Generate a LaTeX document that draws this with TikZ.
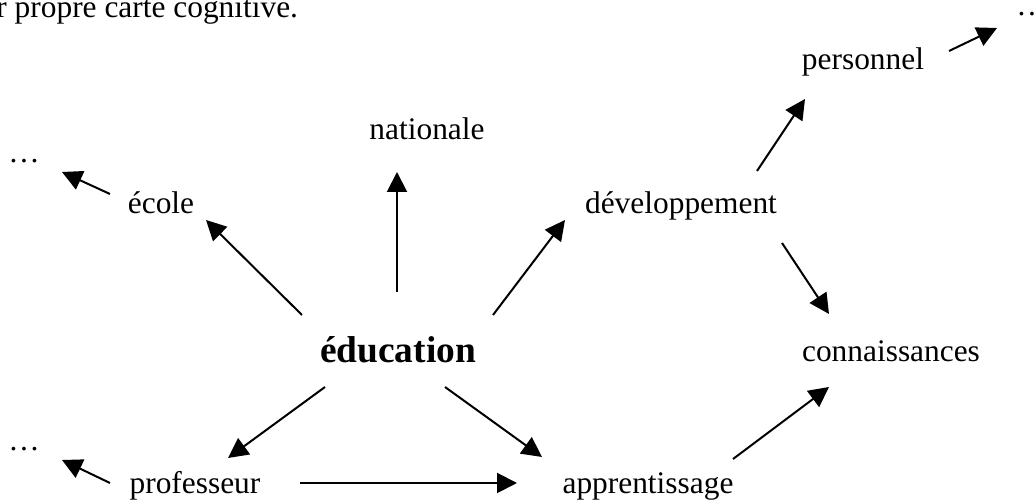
\documentclass[tikz,border=0pt]{standalone}
\usepackage{fontspec}
\setmainfont{Liberation Serif}
\usetikzlibrary{arrows.meta}
\tikzset{
  lbl/.style={anchor=base, inner sep=0pt, font=\fontsize{15.7pt}{18pt}\selectfont},
  lblw/.style={anchor=base west, inner sep=0pt, font=\fontsize{15.7pt}{18pt}\selectfont},
  main/.style={anchor=base, inner sep=0pt, font=\fontsize{18.7pt}{22pt}\selectfont\bfseries},
  arr/.style={line width=1pt, -{Triangle[length=10pt,width=10pt]}}
}
\begin{document}
\begin{tikzpicture}[x=0.5pt,y=-0.5pt]
\useasboundingbox (0,0) rectangle (1034,501);
\begin{scope}
\clip (0,0) rectangle (1034,501);
\node[lblw] (cog) at (-4,18) {r propre carte cognitive.};
\node[lblw] (dotsTR) at (1016,16) {…};
\node[lbl] (pers) at (863,70) {personnel};
\node[lbl] (nat) at (427,140) {nationale};
\node[lblw] (dotsTL) at (8,163) {…};
\node[lbl] (ecole) at (161,214) {école};
\node[lbl] (dev) at (681,214) {développement};
\node[main] (edu) at (398,363) {éducation};
\node[lbl] (conn) at (891,362) {connaissances};
\node[lblw] (dotsBL) at (8,451) {…};
\node[lbl] (prof) at (195,494) {professeur};
\node[lbl] (app) at (648,494) {apprentissage};

\draw[arr] ([shift={(-96,-48)}]edu.base) -- ([shift={(45,6)}]ecole.base);
\draw[arr] ([shift={(-1,-71)}]edu.base) -- ([shift={(-30,32)}]nat.base);
\draw[arr] ([shift={(95,-48)}]edu.base) -- ([shift={(-116,6)}]dev.base);
\draw[arr] ([shift={(76,-43)}]dev.base) -- ([shift={(-58,29)}]pers.base);
\draw[arr] ([shift={(86,-19)}]pers.base) -- ([shift={(-19,12)}]dotsTR.base west);
\draw[arr] ([shift={(-51,-20)}]ecole.base) -- ([shift={(54,9)}]dotsTL.base west);
\draw[arr] ([shift={(101,29)}]dev.base) -- ([shift={(-62,-48)}]conn.base);
\draw[arr] ([shift={(-73,24)}]edu.base) -- ([shift={(33,-36)}]prof.base);
\draw[arr] ([shift={(47,24)}]edu.base) -- ([shift={(-106,-37)}]app.base);
\draw[arr] ([shift={(105,-11)}]prof.base) -- ([shift={(-131,-11)}]app.base);
\draw[arr] ([shift={(85,-35)}]app.base) -- ([shift={(-62,25)}]conn.base);
\draw[arr] ([shift={(-85,-11)}]prof.base) -- ([shift={(54,9)}]dotsBL.base west);
\end{scope}
\end{tikzpicture}
\end{document}
